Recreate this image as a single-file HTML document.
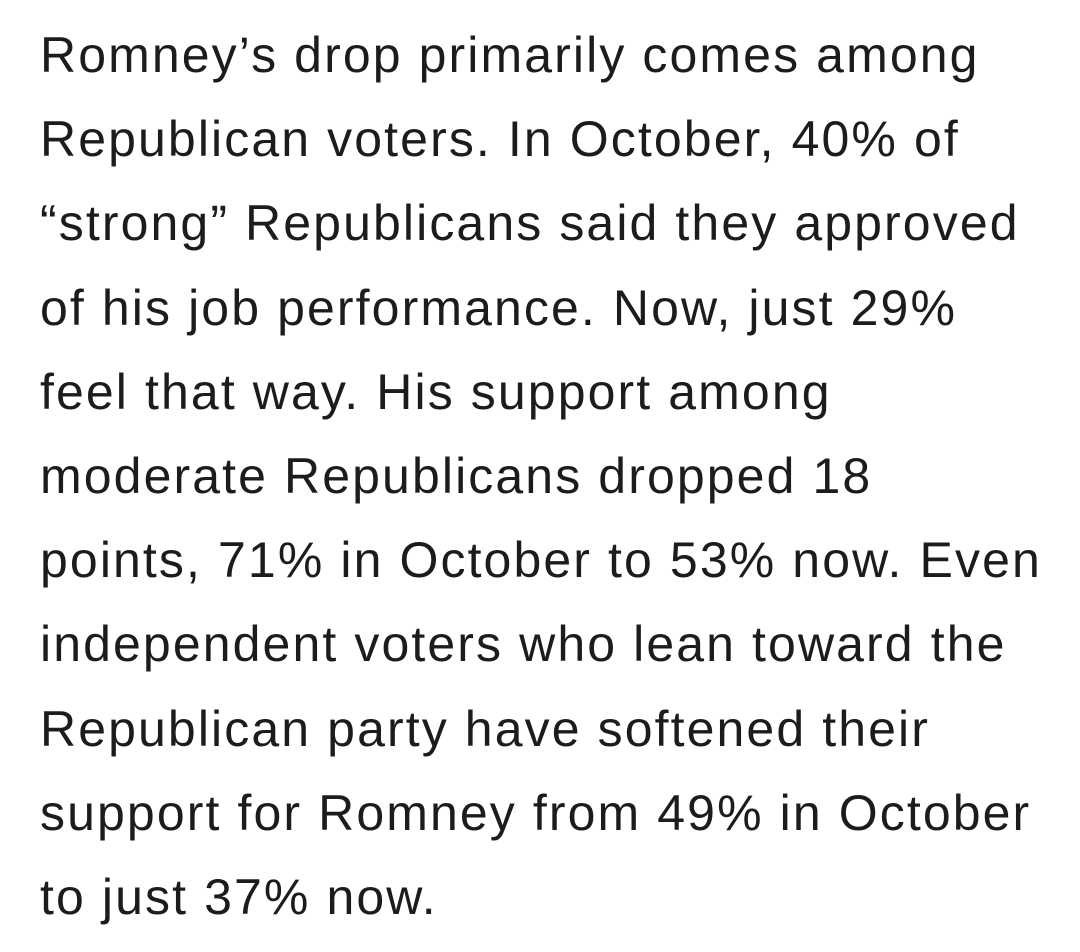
<!DOCTYPE html>
<html><head><meta charset="utf-8"><style>
html,body{margin:0;padding:0;background:#fff;width:1080px;height:952px;overflow:hidden}
.t{position:absolute;left:40px;top:13px;font-family:"Liberation Sans","DejaVu Sans",sans-serif;font-size:50px;letter-spacing:2.1px;line-height:84.2px;color:#1c1c1c;white-space:nowrap}
.t div{height:84.2px}
</style></head><body>
<div class="t">
<div>Romney’s drop primarily comes among</div>
<div>Republican voters. In October, 40% of</div>
<div>“strong” Republicans said they approved</div>
<div>of his job performance. Now, just 29%</div>
<div>feel that way. His support among</div>
<div>moderate Republicans dropped 18</div>
<div>points, 71% in October to 53% now. Even</div>
<div>independent voters who lean toward the</div>
<div>Republican party have softened their</div>
<div>support for Romney from 49% in October</div>
<div>to just 37% now.</div>
</div>
</body></html>
